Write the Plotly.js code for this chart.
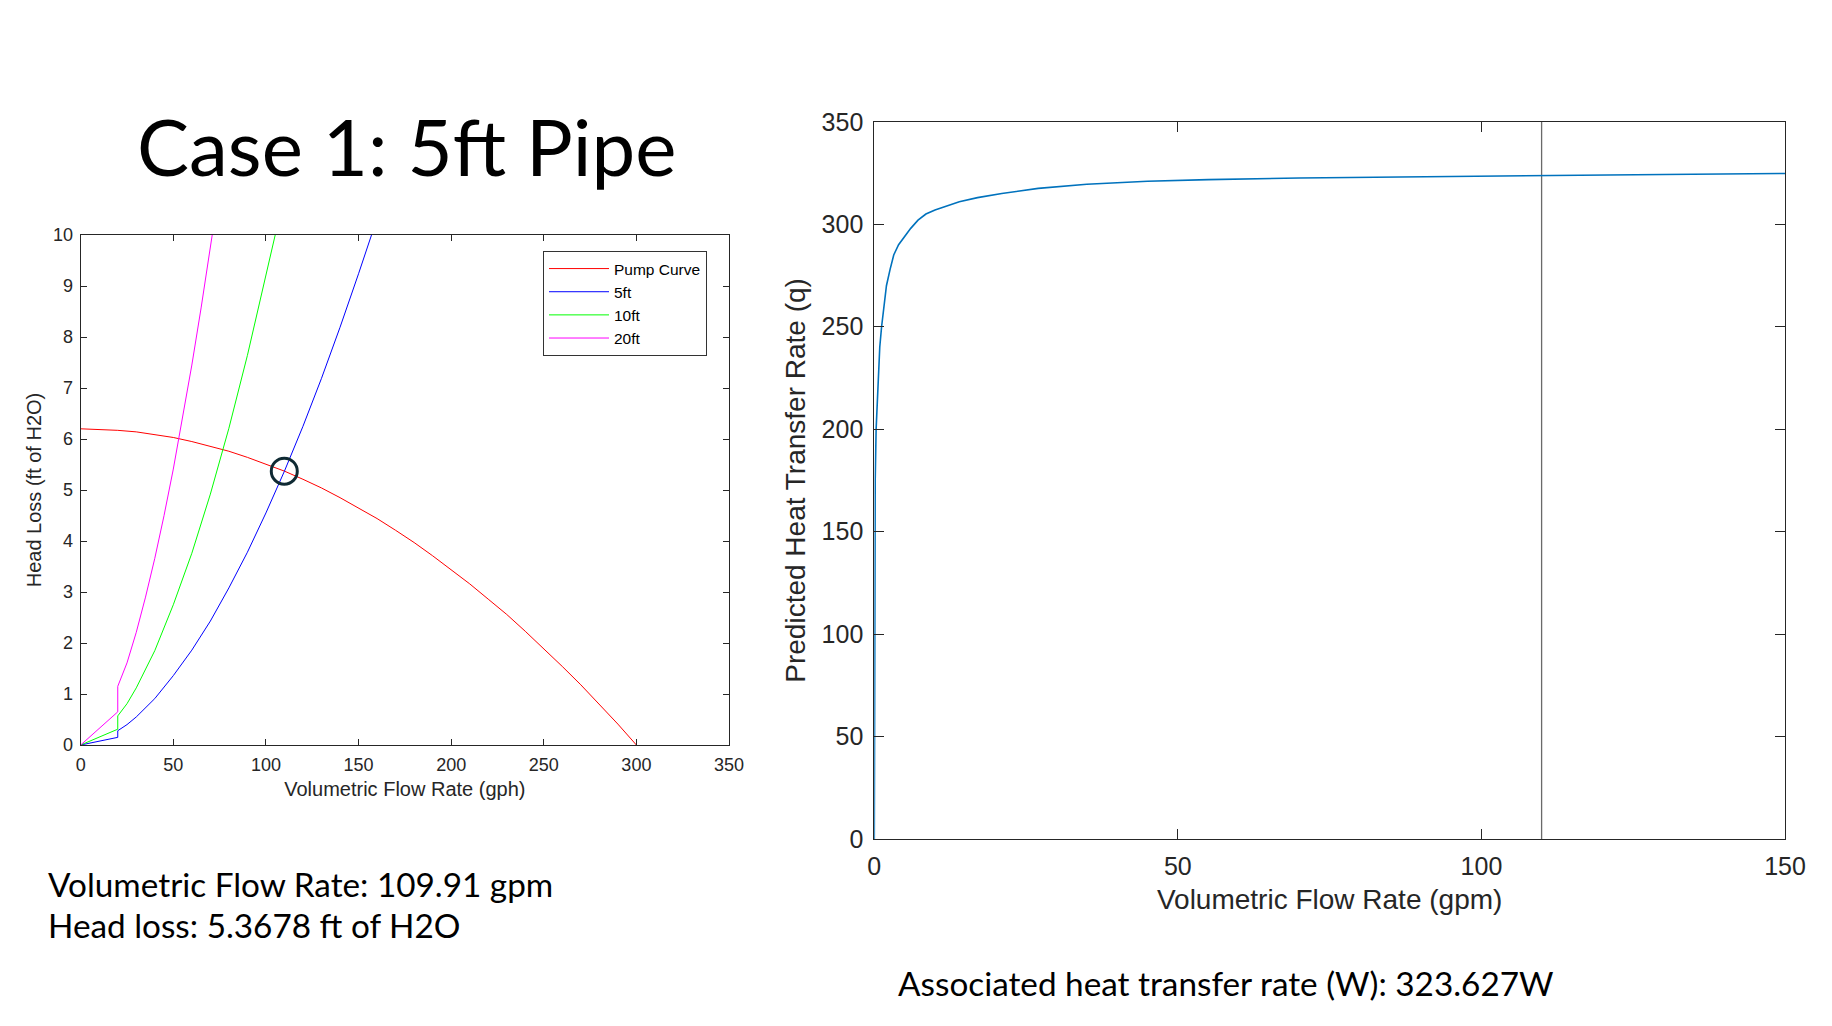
<!DOCTYPE html>
<html><head><meta charset="utf-8">
<script src="https://cdn.plot.ly/plotly-3.0.1.min.js"></script>
<style>html,body{margin:0;padding:0;background:#fff;overflow:hidden;} #chart{width:1832px;height:1026px;}</style>
</head><body><div id="chart"></div>
<script>
// ---- Left chart: pump curve vs system curves (gph, ft of H2O)
const pumpFlow = [0, 10, 20, 30, 40, 50, 60, 70, 80, 90, 100, 110, 120, 130, 140, 150, 160, 170, 180, 190, 200, 210, 220, 230, 240, 250, 260, 270, 280, 290, 300];
const pumpHead = [6.2, 6.19, 6.17, 6.14, 6.09, 6.03, 5.95, 5.86, 5.76, 5.64, 5.51, 5.37, 5.21, 5.04, 4.85, 4.65, 4.44, 4.21, 3.97, 3.71, 3.44, 3.16, 2.86, 2.56, 2.23, 1.89, 1.54, 1.18, 0.80, 0.41, 0];

const fiveFtFlow = [0, 20, 20, 25, 30, 40, 50, 60, 70, 80, 90, 100, 110, 120, 130, 140, 150, 157];
const fiveFtHead = [0, 0.15, 0.28, 0.40, 0.55, 0.91, 1.36, 1.86, 2.43, 3.08, 3.78, 4.55, 5.37, 6.25, 7.19, 8.19, 9.24, 10.0];

const tenFtFlow = [0, 20, 20, 25, 30, 40, 50, 60, 70, 80, 90, 100, 105];
const tenFtHead = [0, 0.31, 0.57, 0.81, 1.12, 1.85, 2.75, 3.76, 4.92, 6.21, 7.64, 9.18, 10.0];

const twentyFtFlow = [0, 20, 20, 25, 30, 35, 40, 45, 50, 55, 60, 65, 71];
const twentyFtHead = [0, 0.65, 1.15, 1.61, 2.21, 2.90, 3.66, 4.50, 5.41, 6.40, 7.45, 8.57, 10.0];

const opFlow = [109.91];
const opHead = [5.3678];

// ---- Right chart: predicted heat transfer rate vs flow (gpm)
const heatFlow = [0, 0.05, 0.15, 0.3, 0.5, 0.7, 0.9, 1.2, 1.6, 2.0, 2.6, 3.2, 4.0, 5.0, 6.0, 7.2, 8.5, 10, 12, 14, 17, 21, 27, 35, 45, 55, 70, 85, 100, 115, 130, 150];
const heatRate = [0, 76, 175, 200, 212, 228, 240, 250, 260, 270, 278, 285, 290, 294, 298, 302, 305, 307, 309, 311, 313, 315, 317.5, 319.5, 321, 321.8, 322.6, 323.1, 323.5, 323.9, 324.3, 324.8];
const markerFlow = [109.91, 109.91];
const markerRate = [0, 350];

// ---- Text
const slideTitle = "Case 1: 5ft Pipe";
const flowText = "Volumetric Flow Rate: 109.91 gpm";
const headText = "Head loss: 5.3678 ft of H2O";
const heatText = "Associated heat transfer rate (W): 323.627W";

const W = 1832, H = 1026;
const px = v => v / W;
const py = v => 1 - v / H;

const axFont = 'Liberation Sans, Arial, sans-serif';
const slideFont = 'Lato, Liberation Sans, sans-serif';
const ink = '#262626';

const traces = [
  {x: pumpFlow, y: pumpHead, type: 'scatter', mode: 'lines', name: 'Pump Curve', line: {color: '#ff0000', width: 1}, xaxis: 'x', yaxis: 'y'},
  {x: fiveFtFlow, y: fiveFtHead, type: 'scatter', mode: 'lines', name: '5ft', line: {color: '#0000ff', width: 1}, xaxis: 'x', yaxis: 'y'},
  {x: tenFtFlow, y: tenFtHead, type: 'scatter', mode: 'lines', name: '10ft', line: {color: '#00ff00', width: 1}, xaxis: 'x', yaxis: 'y'},
  {x: twentyFtFlow, y: twentyFtHead, type: 'scatter', mode: 'lines', name: '20ft', line: {color: '#ff00ff', width: 1}, xaxis: 'x', yaxis: 'y'},
  {x: opFlow, y: opHead, type: 'scatter', mode: 'markers', showlegend: false,
   marker: {symbol: 'circle-open', size: 26, color: '#0f2a33', line: {width: 3, color: '#0f2a33'}}, xaxis: 'x', yaxis: 'y'},
  {x: markerFlow, y: markerRate, type: 'scatter', mode: 'lines', showlegend: false, line: {color: '#6a6a6a', width: 1.3}, xaxis: 'x2', yaxis: 'y2'},
  {x: heatFlow, y: heatRate, type: 'scatter', mode: 'lines', showlegend: false, line: {color: '#0072BD', width: 1.6}, xaxis: 'x2', yaxis: 'y2'}
];

const baseAxis = {
  showline: true, linecolor: ink, linewidth: 1, mirror: 'ticks', ticks: 'inside',
  tickcolor: ink, tickwidth: 1, showgrid: false, zeroline: false, automargin: false,
  fixedrange: true
};

const layout = {
  width: W, height: H,
  margin: {l: 0, r: 0, t: 0, b: 0},
  paper_bgcolor: '#ffffff', plot_bgcolor: '#ffffff',
  showlegend: true,
  legend: {
    x: px(543), y: py(251), xanchor: 'left', yanchor: 'top',
    bgcolor: '#ffffff', bordercolor: '#333333', borderwidth: 1,
    font: {family: axFont, size: 15.5, color: '#000000'},
    itemwidth: 60, tracegroupgap: 0
  },
  xaxis: Object.assign({}, baseAxis, {
    domain: [px(80.7), px(729)], range: [0, 350], tickvals: [0, 50, 100, 150, 200, 250, 300, 350],
    ticklen: 6, tickfont: {family: axFont, size: 18, color: ink}, ticklabelstandoff: 3,
    title: {text: 'Volumetric Flow Rate (gph)', font: {family: axFont, size: 20, color: ink}, standoff: 8},
    anchor: 'y'
  }),
  yaxis: Object.assign({}, baseAxis, {
    domain: [py(745), py(235)], range: [0, 10], tickvals: [0,1,2,3,4,5,6,7,8,9,10],
    ticklen: 6, tickfont: {family: axFont, size: 18, color: ink}, ticklabelstandoff: 3,
    title: {text: 'Head Loss (ft of H2O)', font: {family: axFont, size: 20, color: ink}, standoff: 6},
    anchor: 'x'
  }),
  xaxis2: Object.assign({}, baseAxis, {
    domain: [px(874.3), px(1785)], range: [0, 150], tickvals: [0, 50, 100, 150],
    ticklen: 10, tickfont: {family: axFont, size: 25, color: ink}, ticklabelstandoff: 5,
    title: {text: 'Volumetric Flow Rate (gpm)', font: {family: axFont, size: 28, color: ink}, standoff: 10},
    anchor: 'y2'
  }),
  yaxis2: Object.assign({}, baseAxis, {
    domain: [py(839), py(121.8)], range: [0, 350], tickvals: [0, 50, 100, 150, 200, 250, 300, 350],
    ticklen: 10, tickfont: {family: axFont, size: 25, color: ink}, ticklabelstandoff: 5,
    title: {text: 'Predicted Heat Transfer Rate (q)', font: {family: axFont, size: 28, color: ink}, standoff: 7},
    anchor: 'x2'
  }),
  annotations: [
    {text: slideTitle, xref: 'paper', yref: 'paper', x: px(406.5), y: py(146), xanchor: 'center', yanchor: 'middle',
     showarrow: false, font: {family: slideFont, size: 78, color: '#000000'}},
    {text: flowText, xref: 'paper', yref: 'paper', x: px(46), y: py(884), xanchor: 'left', yanchor: 'middle',
     showarrow: false, font: {family: slideFont, size: 33.3, color: '#000000'}},
    {text: headText, xref: 'paper', yref: 'paper', x: px(46), y: py(925), xanchor: 'left', yanchor: 'middle',
     showarrow: false, font: {family: slideFont, size: 33.3, color: '#000000'}},
    {text: heatText, xref: 'paper', yref: 'paper', x: px(896), y: py(982.5), xanchor: 'left', yanchor: 'middle',
     showarrow: false, font: {family: slideFont, size: 33.3, color: '#000000'}}
  ]
};

Plotly.newPlot('chart', traces, layout, {displayModeBar: false, staticPlot: true});
</script>
</body></html>
